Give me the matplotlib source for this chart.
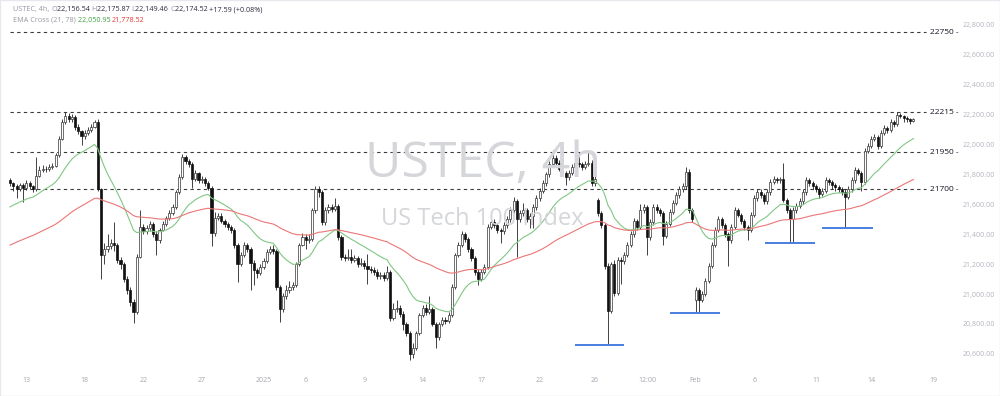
import numpy as np
import matplotlib.pyplot as plt
from matplotlib.patches import Rectangle

# USTEC 4h candles (open = previous close unless gapped)
closes = [
    21740, 21720, 21700, 21730, 21710, 21740, 21720, 21700, 21790, 21830,
    21840, 21835, 21850, 21860, 21930, 22040, 22150, 22190, 22170, 22185,
    22120, 22090, 22060, 22080, 22100, 22120, 22150, 21700, 21260, 21300,
    21320, 21340, 21330, 21230, 21200, 21100, 21030, 20950, 20880, 21250,
    21450, 21420, 21440, 21470, 21400, 21360, 21430, 21470, 21510, 21540,
    21580, 21680, 21780, 21915, 21890, 21870, 21770, 21810, 21760, 21770,
    21740, 21710, 21410, 21510, 21525, 21490, 21470, 21450, 21430, 21330,
    21200, 21260, 21330, 21300, 21210, 21160, 21140, 21180, 21220, 21280,
    21300, 21290, 21050, 20900, 20990, 21030, 21050, 21060, 21200, 21330,
    21380, 21360, 21370, 21560, 21700, 21680, 21480, 21560, 21580, 21570,
    21590, 21380, 21250, 21240, 21250, 21230, 21240, 21200, 21210, 21190,
    21170, 21160, 21150, 21120, 21130, 21110, 21150, 20840, 20900, 20910,
    20870, 20800, 20740, 20600, 20640, 20740, 20860, 20910, 20880, 20900,
    20800, 20710, 20800, 20830, 20820, 20860, 21050, 21260, 21330, 21400,
    21370, 21300, 21240, 21150, 21100, 21150, 21180, 21450, 21480, 21460,
    21430, 21420, 21460, 21500, 21560, 21620, 21500, 21540, 21560, 21500,
    21520, 21580, 21640, 21690, 21740, 21800, 21870, 21910, 21880, 21840,
    21810, 21780, 21810, 21850, 21880, 21870, 21850, 21870, 21880, 21740,
    21770, 21540, 21460, 21190, 20890, 21200, 21010, 21230, 21220, 21260,
    21330, 21400, 21490, 21450, 21560, 21580, 21380, 21480, 21580, 21560,
    21540, 21390, 21470, 21550, 21610, 21660, 21700, 21720, 21820, 21560,
    21500, 21030, 20960, 21000, 21090, 21190, 21330, 21430, 21500, 21460,
    21400, 21360, 21450, 21560, 21530, 21490, 21450, 21430, 21530, 21640,
    21680, 21660, 21620, 21680, 21750, 21770, 21760, 21770, 21630, 21560,
    21500, 21560, 21590, 21620, 21680, 21760, 21740, 21720, 21700, 21670,
    21690, 21760, 21750, 21730, 21715, 21700, 21680, 21650, 21700, 21760,
    21830, 21810, 21750, 21960, 21990, 22040, 22050, 21990, 22080, 22110,
    22100, 22150, 22140, 22200, 22190, 22175, 22170, 22157, 22174.52,
]
highs = [
    21775, 21750, 21735, 21745, 21740, 21760, 21755, 21730, 21915, 21860,
    21865, 21860, 21870, 21880, 21945, 22055, 22170, 22215, 22210, 22205,
    22195, 22135, 22100, 22095, 22115, 22135, 22165, 22170, 21710, 21340,
    21400, 21370, 21480, 21345, 21250, 21215, 21120, 21050, 20970, 21270,
    21560, 21470, 21460, 21490, 21480, 21420, 21445, 21490, 21525, 21560,
    21600, 21695, 21800, 21935, 21930, 21905, 21885, 21830, 21820, 21790,
    21785, 21755, 21720, 21550, 21545, 21540, 21505, 21485, 21465, 21445,
    21345, 21280, 21350, 21345, 21315, 21225, 21175, 21200, 21240, 21300,
    21320, 21330, 21300, 21060, 21010, 21060, 21090, 21080, 21215, 21345,
    21410, 21400, 21400, 21575, 21720, 21720, 21695, 21580, 21600, 21600,
    21640, 21605, 21395, 21270, 21300, 21300, 21260, 21255, 21240, 21230,
    21270, 21190, 21180, 21165, 21150, 21150, 21190, 21160, 20940, 20960,
    20925, 20885, 20815, 20755, 20670, 20755, 20875, 20930, 20935, 20990,
    20915, 20815, 20815, 20850, 20850, 20880, 21065, 21275, 21350, 21420,
    21415, 21385, 21315, 21255, 21165, 21170, 21200, 21470, 21520, 21500,
    21475, 21445, 21480, 21520, 21580, 21650, 21635, 21560, 21610, 21575,
    21540, 21600, 21660, 21710, 21760, 21820, 21890, 21965, 21930, 21895,
    21855, 21825, 21830, 21870, 21900, 21950, 21885, 21890, 21950, 21895,
    21790, 21645, 21555, 21475, 21205, 21215, 21230, 21250, 21250, 21280,
    21350, 21420, 21510, 21505, 21600, 21600, 21595, 21500, 21600, 21600,
    21575, 21555, 21490, 21570, 21630, 21680, 21720, 21740, 21850, 21835,
    21575, 21050, 21040, 21020, 21110, 21210, 21350, 21450, 21520, 21515,
    21475, 21415, 21470, 21580, 21575, 21545, 21505, 21465, 21550, 21660,
    21700, 21700, 21675, 21700, 21770, 21790, 21785, 21780, 21875, 21645,
    21575, 21580, 21610, 21640, 21700, 21780, 21775, 21755, 21735, 21715,
    21710, 21780, 21775, 21765, 21745, 21730, 21715, 21700, 21720, 21780,
    21850, 21845, 21825, 21980, 22010, 22060, 22070, 22065, 22100, 22130,
    22125, 22170, 22165, 22215, 22210, 22195, 22190, 22180, 22175.87,
]
lows = [
    21720, 21690, 21640, 21690, 21615, 21695, 21700, 21680, 21690, 21780,
    21815, 21815, 21825, 21835, 21850, 21920, 22030, 22140, 22150, 22150,
    22100, 22070, 22000, 22040, 22065, 22085, 22110, 21690, 21100, 21200,
    21280, 21300, 21290, 21210, 21170, 21080, 21000, 20920, 20810, 20870,
    21240, 21400, 21400, 21420, 21380, 21260, 21345, 21420, 21455, 21495,
    21530, 21570, 21670, 21770, 21870, 21850, 21710, 21755, 21745, 21740,
    21720, 21695, 21320, 21390, 21495, 21475, 21450, 21430, 21410, 21310,
    21080, 21185, 21245, 21280, 21030, 21060, 21110, 21125, 21165, 21205,
    21265, 21270, 21030, 20815, 20880, 20970, 21010, 21030, 21045, 21185,
    21320, 21300, 21340, 21355, 21545, 21650, 21460, 21465, 21545, 21550,
    21555, 21365, 21230, 21220, 21225, 21210, 21215, 21180, 21185, 21170,
    21070, 21140, 21130, 21100, 21100, 21090, 21095, 20820, 20825, 20880,
    20850, 20760, 20720, 20560, 20570, 20625, 20725, 20845, 20860, 20865,
    20785, 20640, 20695, 20785, 20800, 20805, 20845, 21035, 21245, 21315,
    21350, 21280, 21220, 21130, 21060, 21085, 21135, 21165, 21435, 21440,
    21410, 21340, 21400, 21445, 21485, 21545, 21250, 21485, 21525, 21480,
    21440, 21440, 21565, 21625, 21675, 21725, 21785, 21855, 21860, 21825,
    21790, 21730, 21765, 21795, 21835, 21850, 21830, 21835, 21855, 21725,
    21725, 21525, 21440, 21170, 20660, 20875, 20990, 20995, 21070, 21200,
    21245, 21315, 21385, 21430, 21435, 21545, 21260, 21365, 21465, 21540,
    21520, 21330, 21375, 21455, 21535, 21595, 21645, 21685, 21705, 21545,
    21480, 20880, 20880, 20945, 20985, 21075, 21175, 21315, 21415, 21440,
    21380, 21190, 21345, 21435, 21515, 21470, 21430, 21360, 21415, 21515,
    21625, 21640, 21600, 21605, 21665, 21735, 21740, 21745, 21615, 21540,
    21340, 21350, 21545, 21575, 21605, 21665, 21725, 21700, 21680, 21640,
    21655, 21675, 21730, 21700, 21690, 21680, 21660, 21440, 21635, 21685,
    21745, 21795, 21690, 21735, 21945, 21975, 22025, 21970, 21975, 22065,
    22080, 22085, 22120, 22125, 22175, 22150, 22150, 22140, 22149.46,
]
gap_opens = {0: 21760, 181: 21630, 211: 20960, 278: 22156.54}

# EMA values at the first visible candle (history before the window)
ema21_seed = 21583
ema78_seed = 21328

levels = [22750, 22215, 21950, 21700]
support_prices = [20660, 20874, 21342, 21442]
support_from = [174, 203, 232.3, 250]
support_to = [189, 218.5, 247.7, 265.5]

tick_idx = [5, 23, 41, 59, 78, 91, 109, 127, 145, 163, 180, 196, 211, 229, 248, 265, 284]
tick_labels = ['13', '18', '22', '27', '2025', '6', '9', '14', '17', '22', '26',
               '12:00', 'Feb', '6', '11', '14', '19']
price_ticks = list(range(20600, 22801, 200))


def ema(values, period, seed):
    alpha = 2 / (period + 1)
    out = [seed]
    for v in values[1:]:
        out.append(out[-1] + alpha * (v - out[-1]))
    return np.array(out)


n = len(closes)
idx = np.arange(n)
closes = np.array(closes, dtype=float)
opens = np.array([gap_opens.get(i, closes[i - 1]) for i in range(n)], dtype=float)
highs = np.array(highs, dtype=float)
lows = np.array(lows, dtype=float)

plt.rcParams['font.family'] = ['Open Sans', 'DejaVu Sans']

fig = plt.figure(figsize=(10, 3.96), dpi=100)
ax = fig.add_axes([0, 26 / 396, 0.958, 370 / 396])
ax.set_xlim(-3.08, 291.7)
ax.set_ylim(20492.3, 22967.2)

# watermark
fig.text(0.483, 0.586, 'USTEC, 4h', fontsize=36, color='#d5d6da',
         ha='center', va='center', zorder=0)
fig.text(0.482, 0.447, 'US Tech 100 Index', fontsize=17, color='#d5d6da',
         ha='center', va='center', zorder=0)
ax.patch.set_alpha(0)

# candles
up = closes >= opens
ax.vlines(idx, lows, highs, color='#222222', linewidth=0.6, zorder=2)
body_lo = np.minimum(opens, closes)
body_h = np.maximum(np.abs(closes - opens), 2)
ax.bar(idx[up], body_h[up], bottom=body_lo[up], width=0.62, color='white',
       edgecolor='#333333', linewidth=0.5, zorder=3)
ax.bar(idx[~up], body_h[~up], bottom=body_lo[~up], width=0.62, color='#111111',
       edgecolor='#111111', linewidth=0.5, zorder=3)

# EMA cross
ax.plot(idx, ema(closes, 21, ema21_seed), color='#80c783', linewidth=0.8, zorder=4)
ax.plot(idx, ema(closes, 78, ema78_seed), color='#ec7676', linewidth=0.8, zorder=4)

# horizontal levels
for lv in levels:
    ax.axhline(lv, xmin=0.0104, xmax=0.967, color='#3a3a3a', linewidth=0.8,
               dashes=(3, 3), zorder=1)
    ax.text(0.971, lv, f'{lv} -', transform=ax.get_yaxis_transform(),
            fontsize=6, color='#131722', va='center', ha='left')

for p, a, b in zip(support_prices, support_from, support_to):
    ax.hlines(p, a, b, color='#4a7fe0', linewidth=1.4, zorder=5)

# axes
for s in ax.spines.values():
    s.set_visible(False)
ax.yaxis.tick_right()
ax.set_yticks(price_ticks, [f'{v:,.2f}' for v in price_ticks])
ax.tick_params(axis='y', length=0, pad=3, labelsize=5, labelcolor='#b2b5be')
ax.set_xticks(tick_idx, tick_labels)
ax.tick_params(axis='x', length=0, pad=5, labelsize=5, labelcolor='#a3a6af')

# legend lines (each piece placed right after the previous one)
gray, dark = '#9598a1', '#2a2e39'
rows = [
    (0.975, [('USTEC, 4h, ', gray), ('O', gray), ('22,156.54 ', dark), ('H', gray),
             ('22,175.87 ', dark), ('L', gray), ('22,149.46 ', dark), ('C', gray),
             ('22,174.52 ', dark), ('+17.59 (+0.08%)', dark)]),
    (0.949, [('EMA Cross (21, 78) ', gray), ('22,050.95 ', '#43a047'),
             ('21,778.52', '#e53935')]),
]
for y, pieces in rows:
    prev = fig.text(0.013, y, pieces[0][0], color=pieces[0][1], fontsize=5.2,
                    va='center')
    for txt, col in pieces[1:]:
        prev = ax.annotate(txt, xy=(1, 0.5), xycoords=prev, va='center', ha='left',
                           fontsize=5.2, color=col, annotation_clip=False)

fig.add_artist(Rectangle((0, 0), 1, 1, transform=fig.transFigure, fill=False,
                         edgecolor='#e6e8ee', linewidth=1))

fig.savefig('out.png', dpi=100)
plt.close(fig)
